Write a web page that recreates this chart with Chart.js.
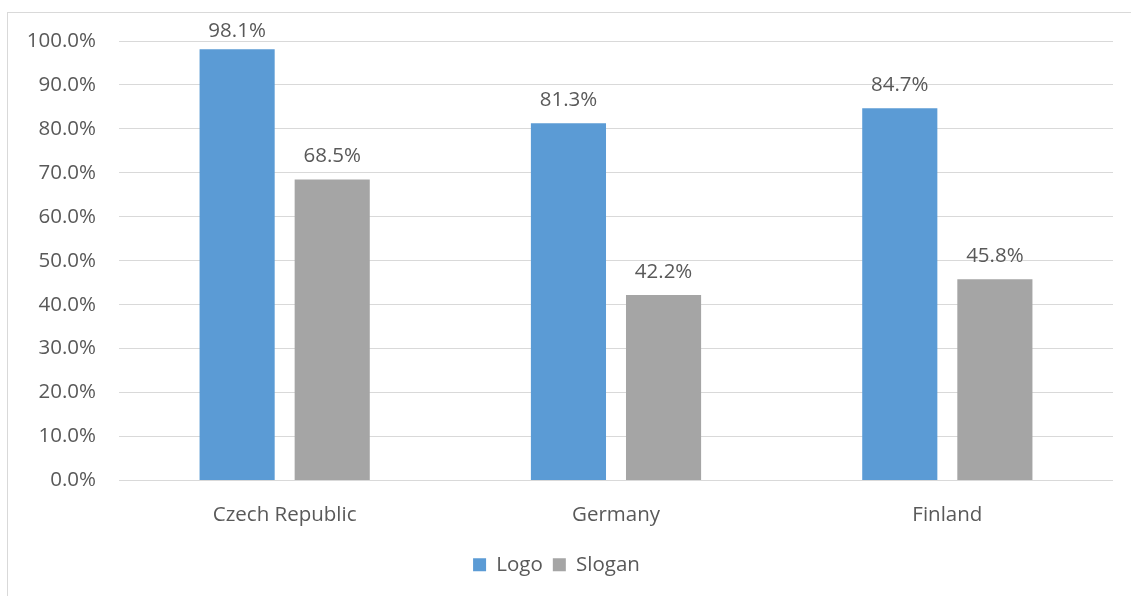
<!DOCTYPE html>
<html>
<head>
<meta charset="utf-8">
<script src="https://cdn.jsdelivr.net/npm/chart.js@4"></script>
<style>
  html, body { margin: 0; padding: 0; background: #fff; overflow: hidden; }
  #frame {
    position: absolute; left: 7px; top: 12px;
    width: 1200px; height: 700px;
    border: 1px solid #d9d9d9; box-sizing: border-box;
  }
  #wrap { position: absolute; left: 0; top: 0; width: 1131px; height: 596px; }
</style>
</head>
<body>
<div id="frame"></div>
<div id="wrap"><canvas id="chart"></canvas></div>
<script>
const categories = ['Czech Republic', 'Germany', 'Finland'];
const logoValues = [98.1, 81.3, 84.7];
const sloganValues = [68.5, 42.2, 45.8];
const seriesNames = ['Logo', 'Slogan'];

const FONT = '"Open Sans", Lato, sans-serif';
const SIZE = 20.5;
const TEXT = '#595959';

// value labels drawn above each bar, kept from running off the top
const barLabels = {
  id: 'barLabels',
  afterDatasetsDraw(chart) {
    const ctx = chart.ctx;
    ctx.save();
    ctx.font = SIZE + 'px ' + FONT;
    ctx.fillStyle = TEXT;
    ctx.textAlign = 'center';
    ctx.textBaseline = 'middle';
    chart.data.datasets.forEach((ds, i) => {
      chart.getDatasetMeta(i).data.forEach((bar, j) => {
        const y = Math.max(bar.y - 23, chart.chartArea.top - 10);
        ctx.fillText(ds.data[j].toFixed(1) + '%', bar.x, y);
      });
    });
    ctx.restore();
  }
};

new Chart(document.getElementById('chart'), {
  type: 'bar',
  data: {
    labels: categories,
    datasets: [
      { label: seriesNames[0], data: logoValues, backgroundColor: '#5b9bd5' },
      { label: seriesNames[1], data: sloganValues, backgroundColor: '#a5a5a5' }
    ]
  },
  options: {
    responsive: true,
    maintainAspectRatio: false,
    animation: false,
    categoryPercentage: 0.574,
    barPercentage: 0.79,
    layout: { padding: { top: 41, right: 18, bottom: 11, left: 0 } },
    plugins: {
      tooltip: { enabled: false },
      legend: {
        position: 'bottom',
        labels: {
          font: { family: FONT, size: SIZE },
          color: TEXT,
          boxWidth: 13,
          boxHeight: 13,
          padding: 10
        }
      }
    },
    scales: {
      x: {
        afterFit(scale) { scale.height = 64; },
        grid: { display: false },
        border: { display: false },
        ticks: { font: { family: FONT, size: SIZE }, color: TEXT, padding: 14 }
      },
      y: {
        min: 0,
        max: 100,
        afterFit(scale) { scale.width = 119; },
        grid: { color: '#d9d9d9', drawTicks: false },
        border: { display: false },
        ticks: {
          stepSize: 10,
          padding: 23,
          font: { family: FONT, size: SIZE },
          color: TEXT,
          callback: v => v.toFixed(1) + '%'
        }
      }
    }
  },
  plugins: [barLabels]
});
</script>
</body>
</html>
